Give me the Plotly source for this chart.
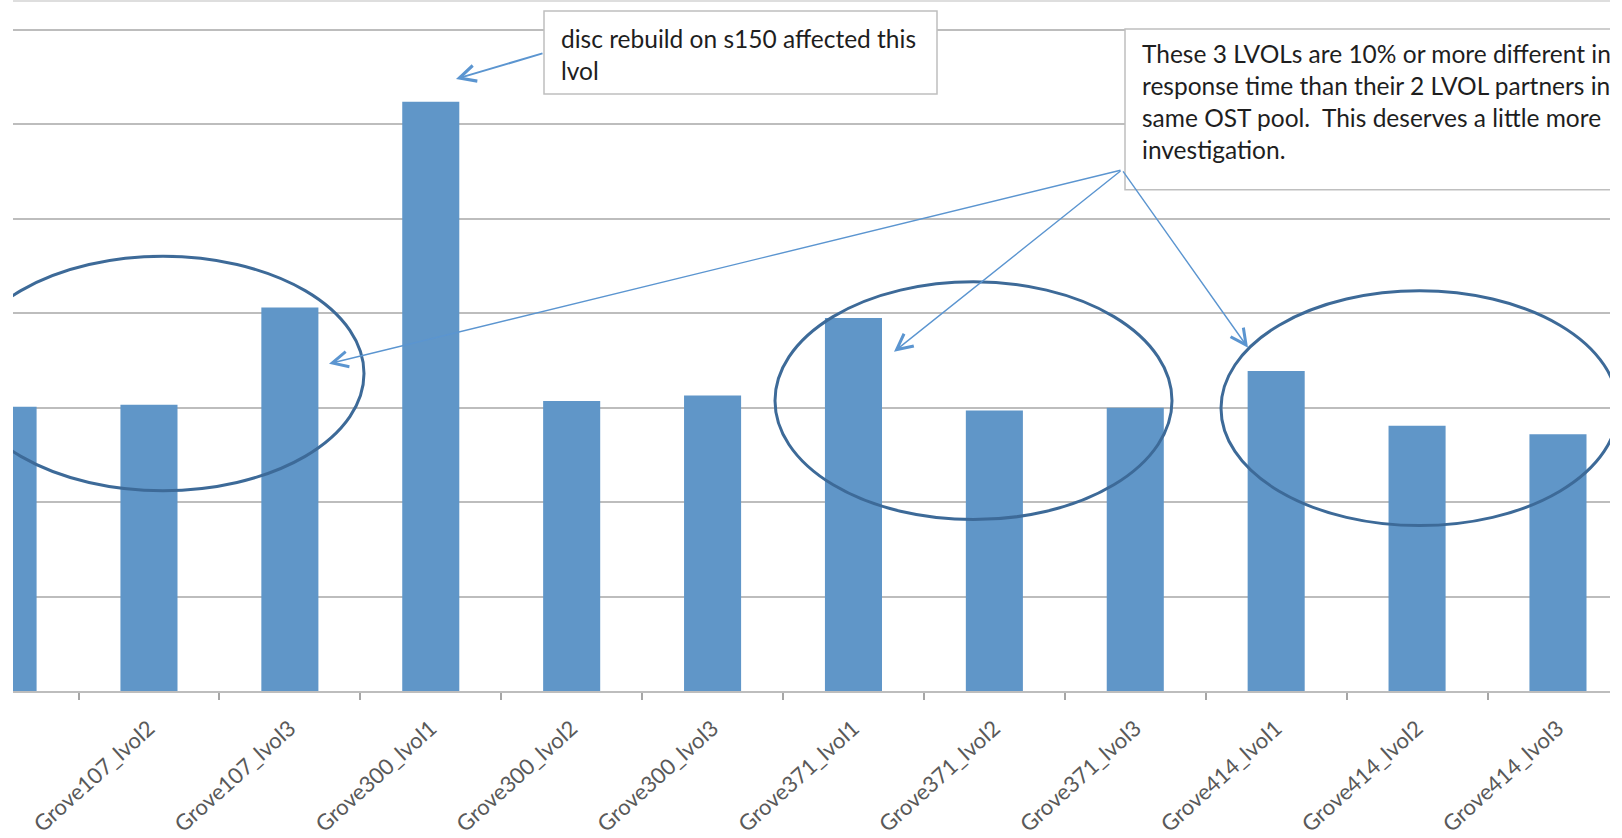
import plotly.graph_objects as go

# ---- data (y in gridline units) ----
categories = [
    "Grove107_lvol1", "Grove107_lvol2", "Grove107_lvol3",
    "Grove300_lvol1", "Grove300_lvol2", "Grove300_lvol3",
    "Grove371_lvol1", "Grove371_lvol2", "Grove371_lvol3",
    "Grove414_lvol1", "Grove414_lvol2", "Grove414_lvol3",
]
response_time = [3.01, 3.03, 4.06, 6.24, 3.07, 3.13, 3.95, 2.97, 3.00, 3.39, 2.81, 2.72]

note1_lines = ["disc rebuild on s150 affected this", "lvol"]
note2_lines = [
    "These 3 LVOLs are 10% or more different in",
    "response time than their 2 LVOL partners in",
    "same OST pool.  This deserves a little more",
    "investigation.",
]

# ---- geometry ----
W, H = 1622, 838
ML, MR, MT = 13, 12, 1
BASE = 691.5             # pixel row of the baseline
STEP_X = 140.9           # px per category
STEP_Y = 94.5            # px per gridline unit
X0 = 0.035               # first visible category position
x_range = [X0, X0 + (W - ML - MR) / STEP_X]
y_range = [0, (BASE - MT) / STEP_Y]


def px2x(px):
    return (px - ML) / STEP_X + X0


def py2y(py):
    return (BASE - py) / STEP_Y


BAR = "#6096C8"
GRID = "#BDBDBD"
ELL = "#3D6A98"
ARROW = "#5B95D0"
FONT = "Lato"

fig = go.Figure()
fig.add_trace(go.Bar(
    x=categories, y=response_time, marker=dict(color=BAR, line=dict(width=0)),
    hoverinfo="x+y", showlegend=False,
))

# note texts on an overlaid linear x axis (clipped to the plot area like the cropped original)
fig.add_trace(go.Scatter(
    x=[px2x(561)], y=[py2y(30)], mode="text", text=["<br>".join(note1_lines)],
    textposition="bottom right", textfont=dict(family=FONT, size=24.5, color="#1E1E1E"),
    hoverinfo="skip", showlegend=False, xaxis="x2",
))
fig.add_trace(go.Scatter(
    x=[px2x(1142)], y=[py2y(45)], mode="text", text=["<br>".join(note2_lines)],
    textposition="bottom right", textfont=dict(family=FONT, size=24.5, color="#1E1E1E"),
    hoverinfo="skip", showlegend=False, xaxis="x2",
))

shapes = []
# note boxes
shapes.append(dict(type="rect", xref="x", yref="y", layer="between",
                   x0=px2x(544), x1=px2x(937), y0=py2y(94), y1=py2y(11),
                   fillcolor="white", line=dict(color="#BFBFBF", width=1.5)))
shapes.append(dict(type="rect", xref="x", yref="y", layer="between",
                   x0=px2x(1125), x1=px2x(1800), y0=py2y(190), y1=py2y(29),
                   fillcolor="white", line=dict(color="#BFBFBF", width=1.5)))
# ellipses
for (a, b, c, d) in [(-38, 364, 256.5, 491), (775, 1172, 282, 520), (1221, 1618, 291, 526)]:
    shapes.append(dict(type="circle", xref="x", yref="y", layer="above",
                       x0=px2x(a), x1=px2x(b), y0=py2y(d), y1=py2y(c),
                       line=dict(color=ELL, width=3)))
# top border line
shapes.append(dict(type="line", xref="paper", yref="paper", x0=0, x1=1, y0=1, y1=1,
                   line=dict(color="#D3D3D3", width=1.5)))

annotations = []
annotations.append(dict(x=px2x(456), y=py2y(79), ax=px2x(544), ay=py2y(53),
                        xref="x", yref="y", axref="x", ayref="y", text="",
                        showarrow=True, arrowhead=5, arrowsize=1.6, arrowwidth=2,
                        arrowcolor=ARROW, standoff=0, startstandoff=0))
for (hx, hy) in [(329, 364), (894, 352), (1248, 348)]:
    annotations.append(dict(x=px2x(hx), y=py2y(hy), ax=px2x(1122), ay=py2y(170),
                            xref="x", yref="y", axref="x", ayref="y", text="",
                            showarrow=True, arrowhead=5, arrowsize=2.2, arrowwidth=1.4,
                            arrowcolor=ARROW, standoff=0, startstandoff=0))

fig.update_layout(
    width=W, height=H,
    margin=dict(l=ML, r=MR, t=MT, b=H - BASE, pad=0),
    paper_bgcolor="white", plot_bgcolor="white",
    bargap=0.595, showlegend=False,
    shapes=shapes, annotations=annotations,
    xaxis=dict(type="category", range=x_range, tickangle=-42,
               tickson="boundaries", ticks="outside", ticklen=7,
               tickcolor="#A6A6A6", tickwidth=1.5,
               showline=True, linecolor=GRID, linewidth=2, showgrid=False,
               tickfont=dict(family=FONT, size=22, color="#595959"),
               ticklabelstandoff=14),
    xaxis2=dict(type="linear", overlaying="x", range=x_range, visible=False,
                showgrid=False, zeroline=False),
    yaxis=dict(range=y_range, dtick=1, showticklabels=False, showgrid=True,
               gridcolor=GRID, gridwidth=2, zeroline=False, ticks=""),
)

fig.write_html("out.html")
